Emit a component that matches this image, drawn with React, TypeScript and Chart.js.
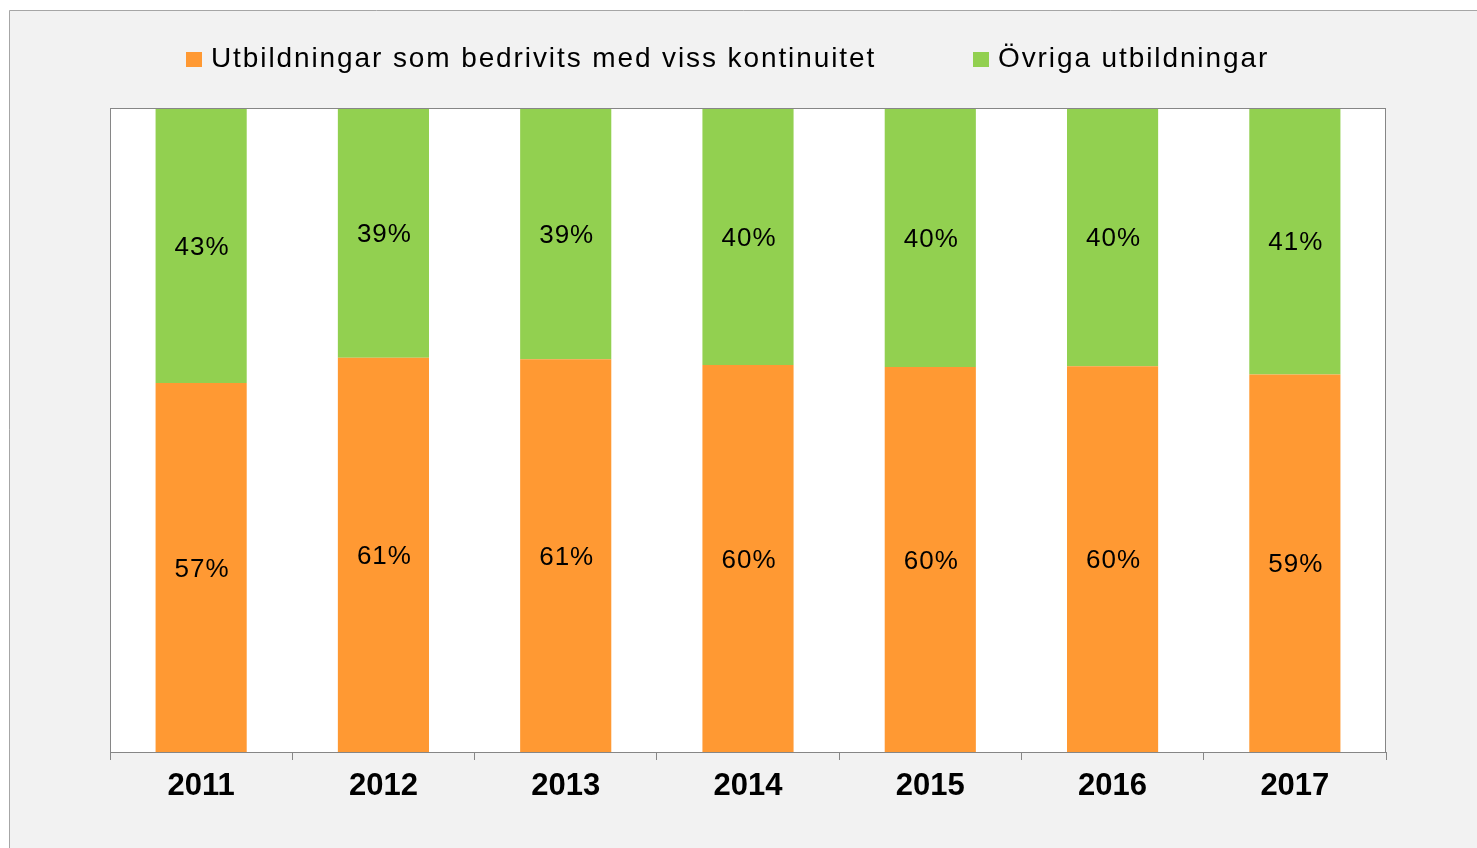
import React, { useEffect, useRef } from "react";
import { Chart, registerables } from "chart.js";

Chart.register(...registerables);

const years = ["2011", "2012", "2013", "2014", "2015", "2016", "2017"];
const kontinuitetValues = [57.3, 61.2, 61.0, 60.1, 59.8, 59.9, 58.6];
const ovrigaValues = [42.7, 38.8, 39.0, 39.9, 40.2, 40.1, 41.4];
const kontinuitetLabels = ["57%", "61%", "61%", "60%", "60%", "60%", "59%"];
const ovrigaLabels = ["43%", "39%", "39%", "40%", "40%", "40%", "41%"];
const seriesNames = ["Utbildningar som bedrivits med viss kontinuitet", "Övriga utbildningar"];
const seriesLabels = [kontinuitetLabels, ovrigaLabels];

const FONT = "'Liberation Sans', Arial, sans-serif";

const framePlugin = {
  id: "frame",
  beforeDraw(chart: any) {
    const { ctx, width, height, chartArea } = chart;
    ctx.save();
    ctx.fillStyle = "#ffffff";
    ctx.fillRect(0, 0, width, height);
    ctx.fillStyle = "#f2f2f2";
    ctx.fillRect(9, 10, width - 9, height - 10);
    ctx.strokeStyle = "#a6a6a6";
    ctx.lineWidth = 1;
    ctx.beginPath();
    ctx.moveTo(9.5, height);
    ctx.lineTo(9.5, 10.5);
    ctx.lineTo(width, 10.5);
    ctx.stroke();
    ctx.fillStyle = "#ffffff";
    ctx.fillRect(chartArea.left, chartArea.top, chartArea.right - chartArea.left, chartArea.bottom - chartArea.top);
    ctx.restore();
  },
  afterDraw(chart: any) {
    const { ctx, chartArea } = chart;
    ctx.save();
    ctx.strokeStyle = "#868686";
    ctx.lineWidth = 1;
    ctx.strokeRect(chartArea.left + 0.5, chartArea.top + 0.5, chartArea.right - chartArea.left - 1, chartArea.bottom - chartArea.top);
    ctx.restore();
  },
};

const legendPlugin = {
  id: "customLegend",
  afterDraw(chart: any) {
    const { ctx } = chart;
    ctx.save();
    ctx.font = `28px ${FONT}`;
    (ctx as any).letterSpacing = "1.9px";
    ctx.textBaseline = "middle";
    const starts = [186, 973];
    chart.data.datasets.forEach((ds: any, i: number) => {
      const x = starts[i];
      ctx.fillStyle = ds.backgroundColor;
      ctx.fillRect(x, 52, 16, 15);
      ctx.fillStyle = "#000000";
      ctx.fillText(ds.label, x + 25, 59);
    });
    (ctx as any).letterSpacing = "0px";
    ctx.restore();
  },
};

const dataLabelPlugin = {
  id: "dataLabels",
  afterDatasetsDraw(chart: any) {
    const { ctx } = chart;
    ctx.save();
    ctx.font = `26px ${FONT}`;
    (ctx as any).letterSpacing = "1px";
    ctx.fillStyle = "#000000";
    ctx.textAlign = "center";
    ctx.textBaseline = "middle";
    chart.data.datasets.forEach((_ds: any, di: number) => {
      const meta = chart.getDatasetMeta(di);
      meta.data.forEach((bar: any, i: number) => {
        const y = (bar.y + bar.base) / 2 + 2;
        ctx.fillText(seriesLabels[di][i], bar.x + 1, y);
      });
    });
    (ctx as any).letterSpacing = "0px";
    ctx.restore();
  },
};

export default function App() {
  const ref = useRef<HTMLCanvasElement | null>(null);
  useEffect(() => {
    if (!ref.current) return;
    const chart = new Chart(ref.current, {
      type: "bar",
      data: {
        labels: years,
        datasets: [
          { label: seriesNames[0], data: kontinuitetValues, backgroundColor: "#ff9933", barPercentage: 0.5, categoryPercentage: 1 },
          { label: seriesNames[1], data: ovrigaValues, backgroundColor: "#92d050", barPercentage: 0.5, categoryPercentage: 1 },
        ],
      },
      options: {
        animation: false,
        responsive: false,
        maintainAspectRatio: false,
        layout: { padding: { left: 110, right: 91, top: 108, bottom: 36 } },
        plugins: { legend: { display: false }, tooltip: { enabled: false } },
        scales: {
          x: {
            stacked: true,
            grid: { display: true, drawOnChartArea: false, drawTicks: true, tickLength: 8, tickColor: "#868686", offset: true },
            border: { display: true, color: "#868686" },
            ticks: { color: "#000000", font: { family: FONT, size: 31, weight: "bold" }, padding: 8 },
            afterFit(scale: any) {
              scale.height = 60;
            },
          },
          y: { stacked: true, display: false, min: 0, max: 100 },
        },
      },
      plugins: [framePlugin, legendPlugin, dataLabelPlugin],
    });
    return () => chart.destroy();
  }, []);
  return (
    <div style={{ position: "absolute", left: 0, top: 0, width: 1477, height: 848, overflow: "hidden" }}>
      <canvas ref={ref} width={1477} height={848} style={{ display: "block" }} />
    </div>
  );
}
